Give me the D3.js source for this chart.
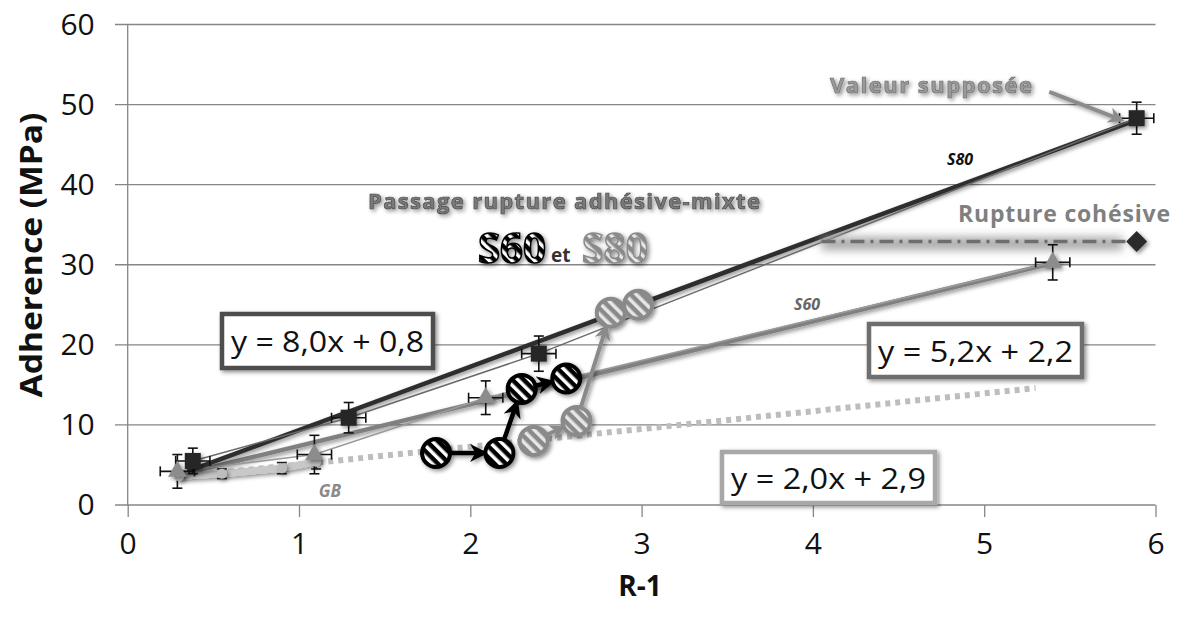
<!DOCTYPE html>
<html><head><meta charset="utf-8">
<script src="https://cdn.jsdelivr.net/npm/d3@7/dist/d3.min.js"></script>
<style>
html,body{margin:0;padding:0;background:#fff;}
svg{display:block;font-family:"Open Sans","Noto Sans",sans-serif;}
</style></head>
<body>
<svg id="chart" width="1182" height="617"></svg>
<script>
// ---------- data ----------
const xTicks = [0, 1, 2, 3, 4, 5, 6];
const yTicks = [0, 10, 20, 30, 40, 50, 60];

// S80 (black squares)
const s80X = [0.38, 1.29, 2.40, 5.89];
const s80Y = [5.5, 10.9, 18.9, 48.3];
const s80ErrY = [1.6, 1.9, 2.2, 2.0];
const s80ErrX = [0.10, 0.10, 0.10, 0.10];
const s80Trend = [[0.35, 4.2], [5.89, 48.1]];

// S60 (grey triangles)
const s60X = [0.29, 1.09, 2.09, 5.40];
const s60Y = [4.2, 6.3, 13.4, 30.3];
const s60ErrY = [2.1, 2.4, 2.1, 2.2];
const s60ErrX = [0.10, 0.10, 0.10, 0.10];
const s60Trend = [[0.29, 3.7], [5.40, 30.2]];

// GB (light grey)
const gbX = [0.30, 0.55, 0.90, 1.10];
const gbY = [3.6, 3.9, 4.6, 5.4];
const gbErrY = [0.0, 0.6, 0.7, 0.9];
const gbTrend = [[0.30, 3.5], [5.30, 14.6]];

// transition paths (hatched circles)
const transS60X = [1.80, 2.17, 2.30, 2.56];
const transS60Y = [6.5, 6.5, 14.5, 15.8];
const transS80X = [2.37, 2.62, 2.82, 2.98];
const transS80Y = [8.0, 10.5, 24.0, 25.0];

// cohesive rupture line
const cohX = [4.05, 5.89];
const cohY = [32.9, 32.9];

// annotation arrow "Valeur supposée"
const supArrowX = [5.38, 5.80];
const supArrowY = [51.6, 48.1];

const equations = ["y = 8,0x + 0,8", "y = 5,2x + 2,2", "y = 2,0x + 2,9"];

// ---------- setup ----------
const svg = d3.select("#chart");
const x = d3.scaleLinear().domain([0, 6]).range([127.7, 1155.5]);
const y = d3.scaleLinear().domain([0, 60]).range([505, 24.5]);

const defs = svg.append("defs");
const shadow = defs.append("filter").attr("id", "shadow").attr("filterUnits", "userSpaceOnUse")
  .attr("x", -1300).attr("y", -800).attr("width", 3800).attr("height", 2300);
shadow.append("feDropShadow").attr("dx", 2).attr("dy", 2).attr("stdDeviation", 2).attr("flood-color", "#000").attr("flood-opacity", 0.45);
const glow = defs.append("filter").attr("id", "glow").attr("filterUnits", "userSpaceOnUse")
  .attr("x", -1300).attr("y", -800).attr("width", 3800).attr("height", 2300);
glow.append("feGaussianBlur").attr("stdDeviation", 4);

function hatch(id, bg, fg) {
  const p = defs.append("pattern").attr("id", id).attr("patternUnits", "userSpaceOnUse")
    .attr("width", 8).attr("height", 8).attr("patternTransform", "rotate(-45)");
  p.append("rect").attr("width", 8).attr("height", 8).attr("fill", bg);
  p.append("rect").attr("x", 0).attr("width", 3.5).attr("height", 8).attr("fill", fg);
}
hatch("hatchBlack", "#000", "#fff");
hatch("hatchGrey", "#8a8a8a", "#e6e6e6");

function arrowMarker(id, color) {
  defs.append("marker").attr("id", id).attr("viewBox", "0 0 10 10").attr("refX", 8).attr("refY", 5)
    .attr("markerWidth", 4).attr("markerHeight", 4).attr("orient", "auto")
    .append("path").attr("d", "M0,0 L10,5 L0,10 L3,5 Z").attr("fill", color);
}
arrowMarker("arrBlack", "#000");
arrowMarker("arrGrey", "#8a8a8a");
arrowMarker("arrSup", "#8c8c8c");

// ---------- grid & axes ----------
const gridG = svg.append("g");
gridG.selectAll("line.h").data(yTicks).join("line")
  .attr("x1", 115).attr("x2", x(6)).attr("y1", d => y(d)).attr("y2", d => y(d))
  .attr("stroke", "#868686").attr("stroke-width", 1.3);
gridG.append("line").attr("x1", x(0)).attr("x2", x(0)).attr("y1", y(60)).attr("y2", y(0))
  .attr("stroke", "#868686").attr("stroke-width", 1.3);

const xAxis = svg.append("g").attr("transform", `translate(0,${y(0)})`)
  .call(d3.axisBottom(x).tickValues(xTicks).tickSize(12).tickFormat(d3.format("d")));
xAxis.select(".domain").remove();
xAxis.selectAll(".tick line").attr("stroke", "#868686").attr("stroke-width", 1.3);
xAxis.selectAll(".tick text").attr("font-size", 30).attr("fill", "#111").attr("y", 20).attr("dy", "0.95em")
  .attr("font-family", "Open Sans, sans-serif");

const yAxis = svg.append("g").attr("transform", `translate(${x(0)},0)`)
  .call(d3.axisLeft(y).tickValues(yTicks).tickSize(0).tickFormat(d3.format("d")));
yAxis.select(".domain").remove();
yAxis.selectAll(".tick text").attr("font-size", 30).attr("fill", "#111").attr("x", -33)
  .attr("font-family", "Open Sans, sans-serif");

svg.append("text").attr("x", 640).attr("y", 596).attr("text-anchor", "middle")
  .attr("font-size", 28).attr("font-weight", "bold").attr("fill", "#111").text("R-1");
svg.append("text").attr("transform", `translate(42,255) rotate(-90)`).attr("text-anchor", "middle")
  .attr("font-size", 30).attr("font-weight", "bold").attr("fill", "#111")
  .attr("textLength", 285).attr("lengthAdjust", "spacingAndGlyphs").text("Adherence (MPa)");

// ---------- lines ----------
const line = d3.line().x(d => x(d[0])).y(d => y(d[1]));

// GB trend (dotted)
svg.append("path").datum(gbTrend).attr("d", line).attr("fill", "none")
  .attr("stroke", "#bdbdbd").attr("stroke-width", 6).attr("stroke-dasharray", "5,5");

// GB data line
svg.append("path").datum(gbX.map((v, i) => [v, gbY[i]])).attr("d", line).attr("fill", "none")
  .attr("stroke", "#c8c8c8").attr("stroke-width", 7).attr("filter", "url(#shadow)");

// S60 trend + connecting line
svg.append("path").datum(s60Trend).attr("d", line).attr("fill", "none")
  .attr("stroke", "#808080").attr("stroke-width", 4.5).attr("filter", "url(#shadow)");
svg.append("path").datum(s60X.map((v, i) => [v, s60Y[i]])).attr("d", line).attr("fill", "none")
  .attr("stroke", "#9a9a9a").attr("stroke-width", 1.5);

// S80 trend + connecting line
svg.append("path").datum(s80Trend).attr("d", line).attr("fill", "none")
  .attr("stroke", "#2e2e2e").attr("stroke-width", 4.5).attr("filter", "url(#shadow)");
svg.append("path").datum(s80X.map((v, i) => [v, s80Y[i]])).attr("d", line).attr("fill", "none")
  .attr("stroke", "#6a6a6a").attr("stroke-width", 1.5);

// cohesive rupture dash-dot with glow
svg.append("line").attr("x1", x(cohX[0])).attr("x2", x(cohX[1]) - 14).attr("y1", y(cohY[0]) + 2).attr("y2", y(cohY[1]) + 2)
  .attr("stroke", "#9a9a9a").attr("stroke-width", 14).attr("opacity", 0.8).attr("filter", "url(#glow)");
svg.append("line").attr("x1", x(cohX[0])).attr("x2", x(cohX[1])).attr("y1", y(cohY[0])).attr("y2", y(cohY[1]))
  .attr("stroke", "#6e6e6e").attr("stroke-width", 3.5).attr("stroke-dasharray", "14,6,3,6");
svg.append("path").attr("transform", `translate(${x(cohX[1])},${y(cohY[1])})`)
  .attr("d", d3.symbol().type(d3.symbolDiamond2).size(280)).attr("fill", "#2b2b2b").attr("filter", "url(#shadow)");

// ---------- error bars ----------
function errorBars(xs, ys, exs, eys, color) {
  const g = svg.append("g").attr("stroke", color).attr("stroke-width", 1.6);
  xs.forEach((xv, i) => {
    const cx = x(xv), cy = y(ys[i]);
    if (eys[i] > 0) {
      const t = y(ys[i] + eys[i]), b = y(ys[i] - eys[i]);
      g.append("line").attr("x1", cx).attr("x2", cx).attr("y1", t).attr("y2", b);
      g.append("line").attr("x1", cx - 5).attr("x2", cx + 5).attr("y1", t).attr("y2", t);
      g.append("line").attr("x1", cx - 5).attr("x2", cx + 5).attr("y1", b).attr("y2", b);
    }
    if (exs && exs[i] > 0) {
      const l = x(xv - exs[i]), r = x(xv + exs[i]);
      g.append("line").attr("x1", l).attr("x2", r).attr("y1", cy).attr("y2", cy);
      g.append("line").attr("x1", l).attr("x2", l).attr("y1", cy - 5).attr("y2", cy + 5);
      g.append("line").attr("x1", r).attr("x2", r).attr("y1", cy - 5).attr("y2", cy + 5);
    }
  });
}
errorBars(gbX, gbY, null, gbErrY, "#222");
errorBars(s60X, s60Y, s60ErrX, s60ErrY, "#111");
errorBars(s80X, s80Y, s80ErrX, s80ErrY, "#111");

// ---------- markers ----------
svg.append("g").selectAll("circle").data(gbX).join("circle")
  .attr("cx", d => x(d)).attr("cy", (d, i) => y(gbY[i])).attr("r", 5)
  .attr("fill", "#bdbdbd").attr("filter", "url(#shadow)");
svg.append("g").selectAll("path").data(s60X).join("path")
  .attr("transform", (d, i) => `translate(${x(d)},${y(s60Y[i])})`)
  .attr("d", d3.symbol().type(d3.symbolTriangle).size(150))
  .attr("fill", "#8c8c8c").attr("filter", "url(#shadow)");
svg.append("g").selectAll("rect").data(s80X).join("rect")
  .attr("x", d => x(d) - 8).attr("y", (d, i) => y(s80Y[i]) - 8).attr("width", 16).attr("height", 16)
  .attr("fill", "#262626").attr("filter", "url(#shadow)");

// ---------- transition paths ----------
const R = 14;
function transition(xs, ys, fill, stroke, marker, sw) {
  const g = svg.append("g").attr("filter", "url(#shadow)");
  for (let i = 0; i < xs.length - 1; i++) {
    const x1 = x(xs[i]), y1 = y(ys[i]), x2 = x(xs[i + 1]), y2 = y(ys[i + 1]);
    const dx = x2 - x1, dy = y2 - y1, L = Math.hypot(dx, dy);
    g.append("line").attr("x1", x1 + dx / L * R).attr("y1", y1 + dy / L * R)
      .attr("x2", x2 - dx / L * (R + 1)).attr("y2", y2 - dy / L * (R + 1))
      .attr("stroke", stroke).attr("stroke-width", sw).attr("marker-end", `url(#${marker})`);
  }
  g.selectAll("circle").data(xs).join("circle")
    .attr("cx", d => x(d)).attr("cy", (d, i) => y(ys[i])).attr("r", R)
    .attr("fill", fill).attr("stroke", stroke).attr("stroke-width", 4);
}
transition(transS80X, transS80Y, "url(#hatchGrey)", "#8a8a8a", "arrGrey", 4);
transition(transS60X, transS60Y, "url(#hatchBlack)", "#000", "arrBlack", 4.5);

// arrow valeur supposée
svg.append("line").attr("x1", x(supArrowX[0])).attr("y1", y(supArrowY[0]))
  .attr("x2", x(supArrowX[1])).attr("y2", y(supArrowY[1]))
  .attr("stroke", "#8c8c8c").attr("stroke-width", 4).attr("marker-end", "url(#arrSup)")
  .attr("filter", "url(#shadow)");

// ---------- annotations ----------
function outlinedText(tx, ty, str, size, fill, stroke, anchor, len) {
  return svg.append("text").attr("x", tx).attr("y", ty).attr("text-anchor", anchor || "start")
    .attr("font-size", size).attr("font-weight", "bold").attr("fill", fill)
    .attr("stroke", stroke).attr("stroke-width", 0.7)
    .attr("textLength", len).attr("lengthAdjust", "spacing")
    .attr("filter", "url(#shadow)").text(str);
}
outlinedText(830, 93, "Valeur supposée", 22, "#9a9a9a", "#6e6e6e", "start", 202);
outlinedText(368, 209, "Passage rupture adhésive-mixte", 22, "#7a7a7a", "#4a4a4a", "start", 392);
svg.append("text").attr("x", 958).attr("y", 222)
  .attr("font-size", 23).attr("font-weight", "bold").attr("fill", "#808080")
  .attr("textLength", 212).attr("lengthAdjust", "spacing")
  .text("Rupture cohésive");

// S60 et S80
svg.append("text").attr("x", 478).attr("y", 263).attr("font-size", 42).attr("font-weight", "bold")
  .attr("textLength", 68).attr("lengthAdjust", "spacingAndGlyphs")
  .attr("fill", "url(#hatchBlack)").attr("stroke", "#000").attr("stroke-width", 1.6)
  .attr("filter", "url(#shadow)").text("S60");
svg.append("text").attr("x", 551).attr("y", 262).attr("font-size", 19).attr("font-weight", "bold")
  .attr("fill", "#333").text("et");
svg.append("text").attr("x", 582).attr("y", 263).attr("font-size", 42).attr("font-weight", "bold")
  .attr("textLength", 66).attr("lengthAdjust", "spacingAndGlyphs")
  .attr("fill", "url(#hatchGrey)").attr("stroke", "#8a8a8a").attr("stroke-width", 1.6)
  .attr("filter", "url(#shadow)").text("S80");

// series labels
svg.append("text").attr("x", 960).attr("y", 165).attr("text-anchor", "middle").attr("font-size", 16)
  .attr("font-weight", "bold").attr("font-style", "italic").attr("fill", "#111").text("S80");
svg.append("text").attr("x", 807).attr("y", 310).attr("text-anchor", "middle").attr("font-size", 16)
  .attr("font-weight", "bold").attr("font-style", "italic").attr("fill", "#666").text("S60");
svg.append("text").attr("x", 330).attr("y", 497).attr("text-anchor", "middle").attr("font-size", 17)
  .attr("font-weight", "bold").attr("font-style", "italic").attr("fill", "#8a8a8a").text("GB");

// equation boxes
const boxes = [
  {x: 222, y: 314, w: 211, h: 54, stroke: "#4d4d4d"},
  {x: 869, y: 324, w: 213, h: 53, stroke: "#6e6e6e"},
  {x: 722, y: 452, w: 213, h: 51, stroke: "#a8a8a8"}
];
boxes.forEach((b, i) => {
  svg.append("rect").attr("x", b.x).attr("y", b.y).attr("width", b.w).attr("height", b.h)
    .attr("fill", "#fff").attr("stroke", b.stroke).attr("stroke-width", 4.5).attr("filter", "url(#shadow)");
  svg.append("text").attr("x", b.x + b.w / 2).attr("y", b.y + b.h / 2 + 11).attr("text-anchor", "middle")
    .attr("font-size", 30).attr("fill", "#111").attr("textLength", b.w - 18).attr("lengthAdjust", "spacingAndGlyphs")
    .text(equations[i]);
});
</script>
</body></html>
